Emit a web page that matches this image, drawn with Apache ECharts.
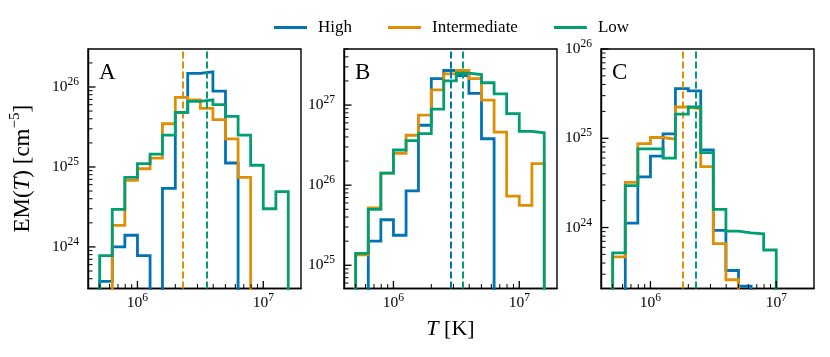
<!DOCTYPE html>
<html>
<head>
<meta charset="utf-8">
<script src="https://cdn.jsdelivr.net/npm/echarts@6/dist/echarts.min.js"></script>
<style>
html,body{margin:0;padding:0;background:#fff;}
#chart{width:830px;height:357px;}
</style>
</head>
<body>
<div id="chart"></div>
<script>
// ---- data ----
const seriesNames = ['High', 'Intermediate', 'Low'];
const panelLabels = ['A', 'B', 'C'];
// temperature bin edges [K]
const tEdges = [5.01e5, 6.31e5, 7.94e5, 1.0e6, 1.26e6, 1.58e6, 2.0e6, 2.51e6, 3.16e6, 3.98e6, 5.01e6, 6.31e6, 7.94e6, 1.0e7, 1.26e7, 1.58e7];
// EM(T) [cm^-5] per bin
const aHigh  = [3.7e23, 1.0e24, 1.4e24, 7.8e23, 0, 5.4e24, 4.8e25, 1.48e26, 1.55e26, 8.9e25, 1.12e25, 0, 0, 0, 0];
const aInter = [0, 1.86e24, 6.8e24, 9.5e24, 1.29e25, 3.47e25, 7.4e25, 6.9e25, 5.4e25, 3.9e25, 2.24e25, 7.4e24, 0, 0, 0];
const aLow   = [7.8e23, 2.95e24, 7.4e24, 1.1e25, 1.45e25, 2.5e25, 4.8e25, 6.6e25, 6.9e25, 6.0e25, 4.3e25, 2.5e25, 1.05e25, 3.0e24, 4.9e24];
const bHigh  = [0, 2.0e25, 3.7e25, 2.37e25, 8.5e25, 5.6e26, 2.14e27, 2.7e27, 2.34e27, 1.4e27, 3.8e26, 0, 0, 0, 0];
const bInter = [1.35e25, 5.2e25, 1.41e26, 2.5e26, 4.2e26, 7.5e26, 1.55e27, 2.45e27, 2.7e27, 2.14e27, 1.15e27, 4.6e26, 7.3e25, 5.6e25, 1.86e26];
const bLow   = [1.41e25, 5.0e25, 1.41e26, 2.75e26, 3.6e26, 4.4e26, 8.9e26, 2.0e27, 2.5e27, 2.4e27, 1.9e27, 1.38e27, 7.8e26, 4.7e26, 4.5e26];
const cHigh  = [0, 1.12e24, 3.7e24, 6.3e24, 1.12e25, 3.6e25, 3.4e25, 7.4e24, 9.3e23, 3.3e23, 2.2e23, 0, 0, 0, 0];
const cInter = [4.7e23, 3.2e24, 8.7e24, 1.02e25, 9.8e24, 2.24e25, 2.14e25, 4.8e24, 6.6e23, 2.6e23, 0, 0, 0, 0, 0];
const cLow   = [5.2e23, 2.95e24, 7.6e24, 7.6e24, 6.0e24, 1.86e25, 2.24e25, 6.9e24, 1.6e24, 9.1e23, 8.7e23, 8.5e23, 5.6e23, 0, 0];
// dashed reference temperatures [K] (null = none)
const aMedians = [null, 2.28e6, 3.56e6];
const bMedians = [2.84e6, null, 3.58e6];
const cMedians = [null, 1.82e6, 2.29e6];
// axis ranges (exponents)
const xRangeExp = [5.607, 7.30];
const yRangeExp = [[23.48, 26.475], [24.71, 27.70], [23.317, 26.0]];
// ---- styling ----
const colors = ['#0173B2', '#DE8F05', '#029E73'];
const FONT = 'Liberation Serif';
const gridLefts = [88, 344, 601];
const GRID_TOP = 49, GRID_W = 213, GRID_H = 239.5;
const FLOOR = 1e10;

const panels = [[aHigh, aInter, aLow], [bHigh, bInter, bLow], [cHigh, cInter, cLow]];
const medians = [aMedians, bMedians, cMedians];

function stepData(vals) {
  const d = [[tEdges[0], FLOOR]];
  vals.forEach((v, i) => d.push([tEdges[i], v > 0 ? v : FLOOR]));
  d.push([tEdges[vals.length], FLOOR]);
  return d;
}
function powLabel(v) {
  const e = Math.log10(v);
  const r = Math.round(e);
  if (Math.abs(e - r) > 1e-6) return '';
  return '{b|10}{s|' + r + '}';
}
const labelRich = {
  b: {fontFamily: FONT, fontSize: 15.5, color: '#000', lineHeight: 22},
  s: {fontFamily: FONT, fontSize: 11.5, color: '#000', lineHeight: 12, verticalAlign: 'top'}
};

const grids = [], xAxes = [], yAxes = [], series = [], graphics = [];
for (let g = 0; g < 3; g++) {
  const xmin = Math.pow(10, xRangeExp[0]), xmax = Math.pow(10, xRangeExp[1]);
  const ymin = Math.pow(10, yRangeExp[g][0]), ymax = Math.pow(10, yRangeExp[g][1]);
  grids.push({left: gridLefts[g], top: GRID_TOP, width: GRID_W, height: GRID_H,
    show: true, borderColor: '#000', borderWidth: 1.4, backgroundColor: 'transparent',
    containLabel: false, outerBoundsMode: 'none'});
  xAxes.push({type: 'log', gridIndex: g, min: xmin, max: xmax, logBase: 10,
    axisLine: {show: true, lineStyle: {color: '#000', width: 1.4}},
    axisTick: {show: false}, splitLine: {show: false}, minorTick: {show: false},
    axisLabel: {formatter: powLabel, rich: labelRich, margin: 3, showMinLabel: true, showMaxLabel: true, hideOverlap: false},
    name: g === 1 ? '{i|T} [K]' : '',
    nameLocation: 'middle', nameGap: 30,
    nameTextStyle: {fontFamily: FONT, fontSize: 22, color: '#000',
      rich: {i: {fontFamily: FONT, fontSize: 22, fontStyle: 'italic', color: '#000'}}}
  });
  yAxes.push({type: 'log', gridIndex: g, min: ymin, max: ymax, logBase: 10,
    axisLine: {show: true, lineStyle: {color: '#000', width: 1.4}},
    axisTick: {show: false}, splitLine: {show: false}, minorTick: {show: false},
    axisLabel: {formatter: powLabel, rich: labelRich, margin: 9, showMinLabel: true, showMaxLabel: true, hideOverlap: false},
    name: g === 0 ? '{n|EM(}{i|T}{n|) [cm}{s|−5}{n|]}' : '',
    nameLocation: 'middle', nameGap: 50, nameRotate: 90,
    nameTextStyle: {fontFamily: FONT, fontSize: 23, color: '#000',
      rich: {
        n: {fontFamily: FONT, fontSize: 23, color: '#000', lineHeight: 30},
        i: {fontFamily: FONT, fontSize: 23, fontStyle: 'italic', color: '#000', lineHeight: 30},
        s: {fontFamily: FONT, fontSize: 15, color: '#000', lineHeight: 17, verticalAlign: 'top'}
      }}
  });
  for (let k = 0; k < 3; k++) {
    const s = {
      type: 'line', name: seriesNames[k], xAxisIndex: g, yAxisIndex: g,
      data: stepData(panels[g][k]), step: 'end', showSymbol: false, symbol: 'none',
      clip: true, z: 3 + k,
      color: colors[k],
      lineStyle: {color: colors[k], width: 2.8, join: 'miter', cap: 'butt'},
      emphasis: {disabled: true}
    };
    if (medians[g][k] != null) {
      s.markLine = {silent: true, symbol: ['none', 'none'], label: {show: false},
        lineStyle: {color: colors[k], type: [7, 3], width: 2},
        emphasis: {disabled: true},
        data: [{xAxis: medians[g][k]}]};
    }
    series.push(s);
  }
  // tick marks (inward), drawn from axis scales
  const tickData = [];
  const e0 = Math.floor(xRangeExp[0]), e1 = Math.ceil(xRangeExp[1]);
  for (let e = e0; e <= e1; e++) {
    for (let m = 1; m <= 9; m++) {
      const v = m * Math.pow(10, e);
      if (v > xmin * 1.0001 && v < xmax * 0.9999) tickData.push([v, ymin, 0, m === 1 ? 1 : 0]);
    }
  }
  const f0 = Math.floor(yRangeExp[g][0]), f1 = Math.ceil(yRangeExp[g][1]);
  for (let e = f0; e <= f1; e++) {
    for (let m = 1; m <= 9; m++) {
      const v = m * Math.pow(10, e);
      if (v > ymin * 1.0001 && v <= ymax * 1.0001) tickData.push([xmin, v, 1, m === 1 ? 1 : 0]);
    }
  }
  series.push({
    type: 'custom', xAxisIndex: g, yAxisIndex: g, silent: true, z: 10, clip: false,
    data: tickData, encode: {x: 0, y: 1},
    renderItem: function (params, api) {
      const p = api.coord([api.value(0), api.value(1)]);
      const kind = api.value(2), major = api.value(3);
      const len = major ? 7.5 : 4.5;
      const shape = kind === 0
        ? {x1: p[0], y1: p[1], x2: p[0], y2: p[1] - len}
        : {x1: p[0], y1: p[1], x2: p[0] + len, y2: p[1]};
      return {type: 'line', shape: shape, style: {stroke: '#000', lineWidth: major ? 1.3 : 1.0}};
    }
  });
  graphics.push({type: 'text', left: gridLefts[g] + 11, top: 61,
    style: {text: panelLabels[g], fontFamily: FONT, fontSize: 23, fill: '#000'}});
}

const chart = echarts.init(document.getElementById('chart'), null, {renderer: 'canvas'});
chart.setOption({
  animation: false,
  backgroundColor: '#fff',
  legend: {
    data: seriesNames, left: 274, top: 19, padding: 0, itemWidth: 33, itemHeight: 3, itemGap: 36,
    icon: 'rect',
    textStyle: {fontFamily: FONT, fontSize: 17, color: '#000', padding: [0, 0, 0, 6]}
  },
  grid: grids, xAxis: xAxes, yAxis: yAxes, series: series, graphic: graphics
});
</script>
</body>
</html>
